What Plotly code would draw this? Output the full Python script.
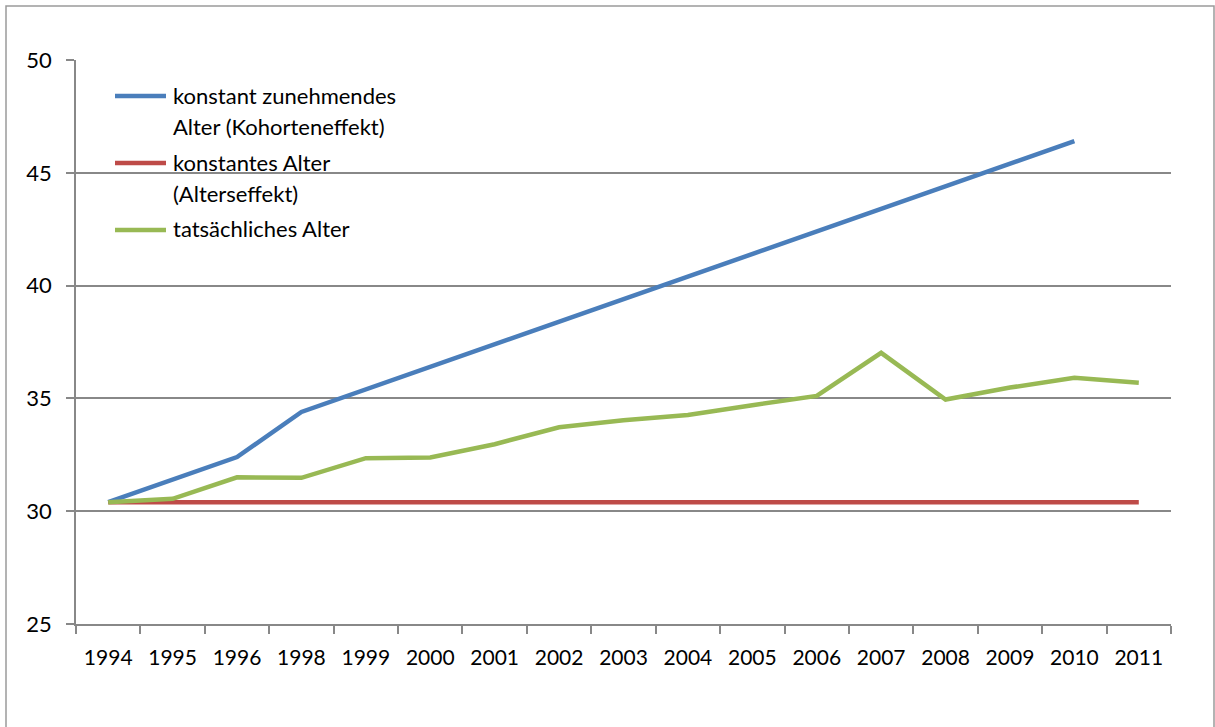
import plotly.graph_objects as go

years = ["1994", "1995", "1996", "1998", "1999", "2000", "2001", "2002", "2003",
         "2004", "2005", "2006", "2007", "2008", "2009", "2010", "2011"]
kohorte = [30.4, 31.4, 32.4, 34.4, 35.4, 36.4, 37.4, 38.4, 39.4,
           40.4, 41.4, 42.4, 43.4, 44.4, 45.4, 46.4, None]
alters = [30.4] * 17
tatsaechlich = [30.4, 30.55, 31.5, 31.48, 32.35, 32.38, 32.97, 33.72, 34.03,
                34.26, 34.7, 35.11, 37.02, 34.95, 35.48, 35.91, 35.69]

names = [["konstant zunehmendes", "Alter (Kohorteneffekt)"],
         ["konstantes Alter", "(Alterseffekt)"],
         ["tatsächliches Alter"]]
colors = ["#4A7EBB", "#BE4B48", "#98B954"]

W, H = 1215, 727
L, R, T, B = 76, 44, 60, 103
pw, ph = W - L - R, H - T - B


def px(xp):
    return (xp - L) / pw


def py(yp):
    return (H - B - yp) / ph


fig = go.Figure()
for vals, nm, c in zip([kohorte, alters, tatsaechlich], names, colors):
    fig.add_trace(go.Scatter(x=years, y=vals, name=" ".join(nm), mode="lines",
                             line=dict(color=c, width=4.5), connectgaps=False))

# outer frame
fig.add_shape(type="rect", xref="paper", yref="paper",
              x0=px(6), x1=px(1214), y0=py(780), y1=py(6),
              line=dict(color="#9A9A9A", width=1.5), fillcolor="rgba(0,0,0,0)")

# legend box
fig.add_shape(type="rect", xref="paper", yref="paper",
              x0=px(96), x1=px(418), y0=py(250), y1=py(68),
              line=dict(width=0), fillcolor="white", layer="between")

sample_y = [96, 163, 230]
text_y = [[95, 126], [162, 193], [229]]
for nm, c, sy, ty in zip(names, colors, sample_y, text_y):
    fig.add_shape(type="line", xref="paper", yref="paper",
                  x0=px(115), x1=px(166), y0=py(sy), y1=py(sy),
                  line=dict(color=c, width=4.5), layer="above")
    for line_txt, yy in zip(nm, ty):
        fig.add_annotation(xref="paper", yref="paper", x=px(171), y=py(yy),
                           text=line_txt, showarrow=False, xanchor="left",
                           yanchor="middle", font=dict(size=22, color="black"))

fig.update_layout(
    width=W, height=H,
    margin=dict(l=L, r=R, t=T, b=B),
    paper_bgcolor="white", plot_bgcolor="white",
    font=dict(family="Lato, Open Sans, sans-serif", size=21, color="black"),
    showlegend=False,
    xaxis=dict(type="category", range=[-0.5, 16.5], showgrid=False,
               showline=True, linecolor="#888888", linewidth=1.5,
               ticks="outside", ticklen=8, tickcolor="#888888", tickwidth=1.5,
               tickson="boundaries", tickfont=dict(size=21), ticklabelstandoff=14),
    yaxis=dict(range=[25, 50], dtick=5, tick0=25, showgrid=True,
               gridcolor="#888888", gridwidth=1.5, zeroline=False,
               showline=True, linecolor="#888888", linewidth=1.5,
               ticks="outside", ticklen=8, tickcolor="#888888", tickwidth=1.5,
               tickfont=dict(size=22), ticklabelstandoff=10),
)

fig.write_html("out.html")
